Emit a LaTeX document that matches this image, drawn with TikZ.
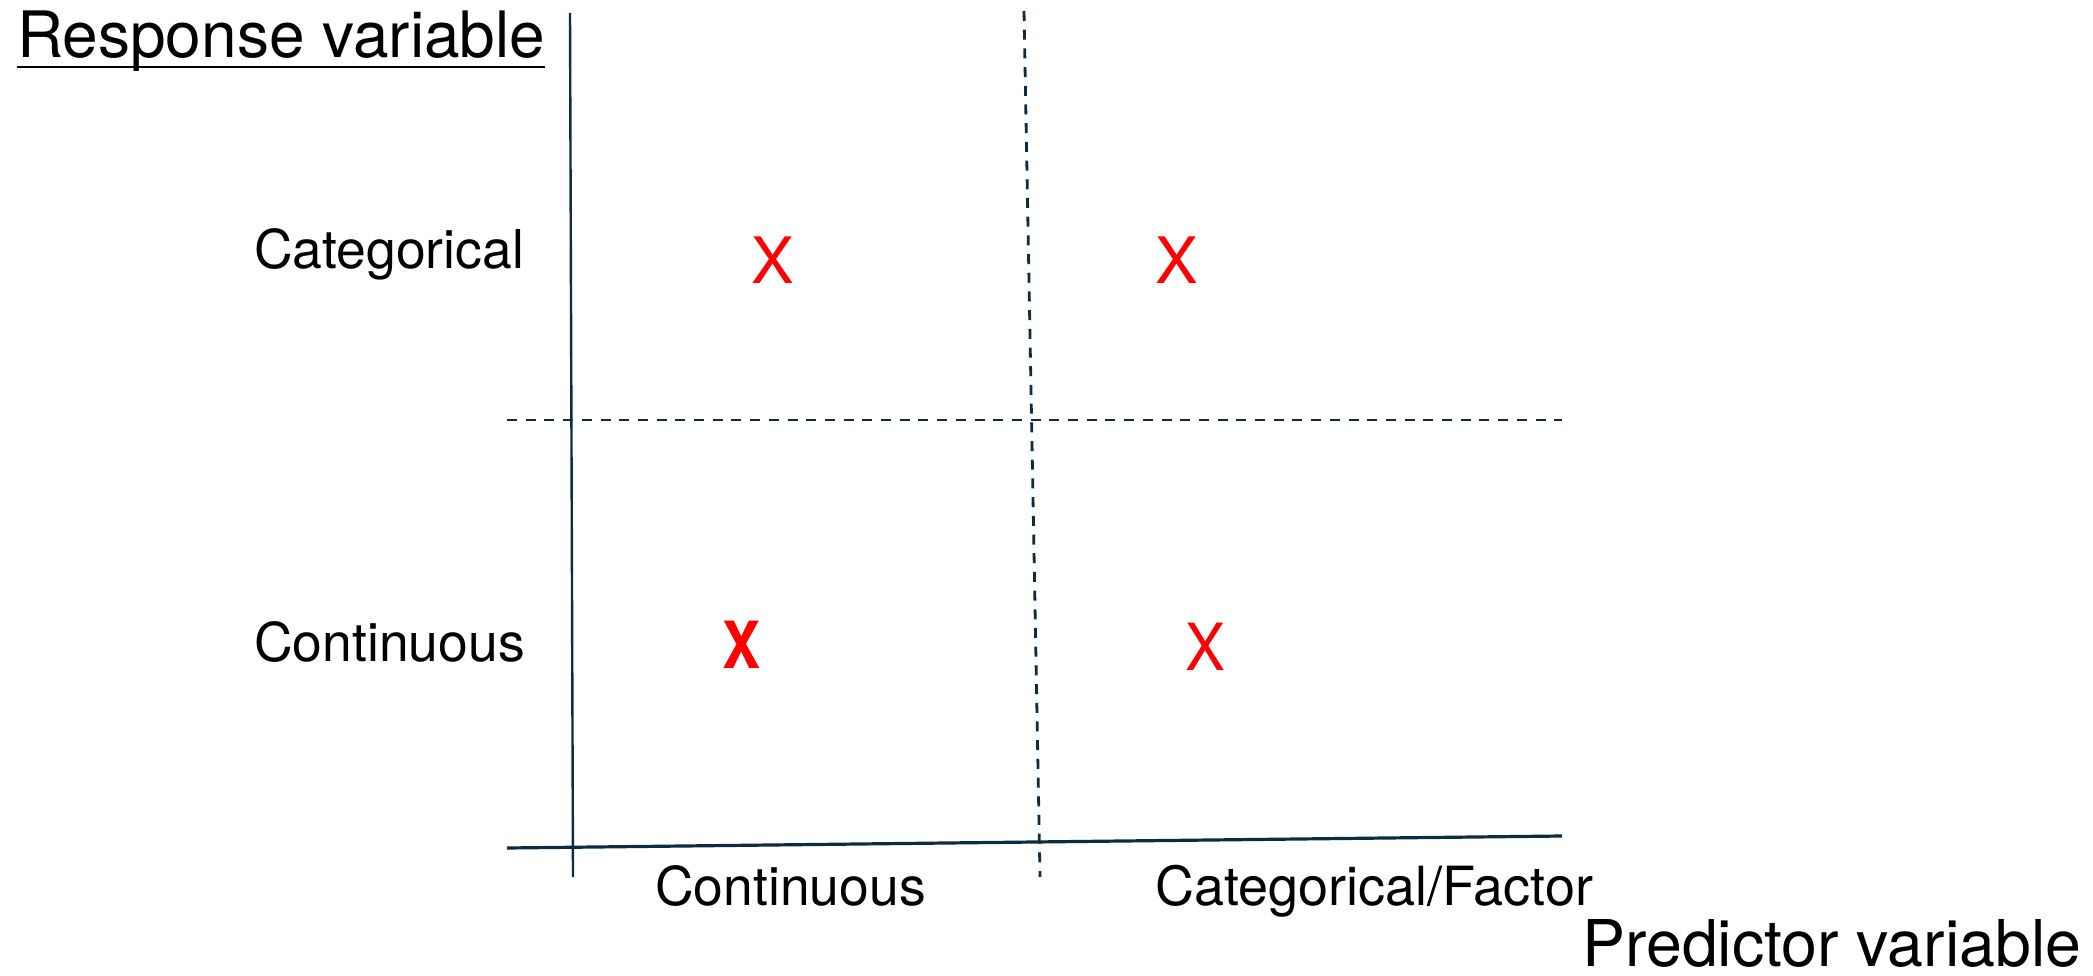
\documentclass[tikz,border=0pt]{standalone}
\usepackage{fontspec}
\setmainfont{TeX Gyre Heros}
\definecolor{axisnavy}{HTML}{0D2C42}
\definecolor{markred}{HTML}{FF0000}
\begin{document}
\begin{tikzpicture}[x=1pt,y=-1pt,
  lbl/.style={inner sep=0pt, anchor=base west, text=black},
  axisline/.style={draw=axisnavy, line width=2.4pt},
  gridline/.style={draw=axisnavy, line width=2.8pt, dash pattern=on 10pt off 8.7pt},
  cellmark/.style={inner sep=0pt, text=markred}]
\useasboundingbox[fill=white] (0,0) rectangle (2093,976);

% axis titles
\node[lbl, font=\fontsize{64}{64}\selectfont] (resp) at (17,58) {Response variable};
\draw[line width=2.7pt] ([yshift=-9pt]resp.base west) -- ([yshift=-9pt]resp.base east);
\node[lbl, font=\fontsize{64.5}{65}\selectfont] (pred) at (1582,966) {Predictor variable};

% row labels
\node[lbl, font=\fontsize{53.5}{54}\selectfont] (rcat) at (254,269) {Categorical};
\node[lbl, font=\fontsize{53.5}{54}\selectfont] (rcon) at (254,661) {Continuous};

% column labels
\node[lbl, font=\fontsize{53.5}{54}\selectfont] (ccon) at (655,905) {Continuous};
\node[lbl, font=\fontsize{54}{55}\selectfont] (ccat) at (1155,905) {Categorical/Factor};

% axes and grid
\coordinate (vtop) at (570,13);
\coordinate (vbot) at (573,877);
\coordinate (dtop) at (1024,11);
\coordinate (dbot) at (1040,877);
\coordinate (hl) at (507,420);
\coordinate (hr) at (1562,420);
\coordinate (bl) at (507,848);
\coordinate (br) at (1562,836);
\draw[axisline] (vtop) -- (vbot);
\draw[axisline, line width=3.2pt] (bl) -- (br);
\draw[gridline] (dtop) -- (dbot);
\draw[gridline] (hl) -- (hr);

% cell marks
\node[cellmark, font=\fontsize{64}{64}\selectfont] (m1) at (773,260) {X};
\node[cellmark, font=\fontsize{64}{64}\selectfont] (m2) at (1177,260) {X};
\node[cellmark, font=\bfseries\fontsize{65}{65}\selectfont] (m3) at (742,645) {\scalebox{0.88}[1]{X}};
\node[cellmark, font=\fontsize{65}{65}\selectfont] (m4) at (1205,647) {\scalebox{0.92}[1]{X}};
\end{tikzpicture}
\end{document}
